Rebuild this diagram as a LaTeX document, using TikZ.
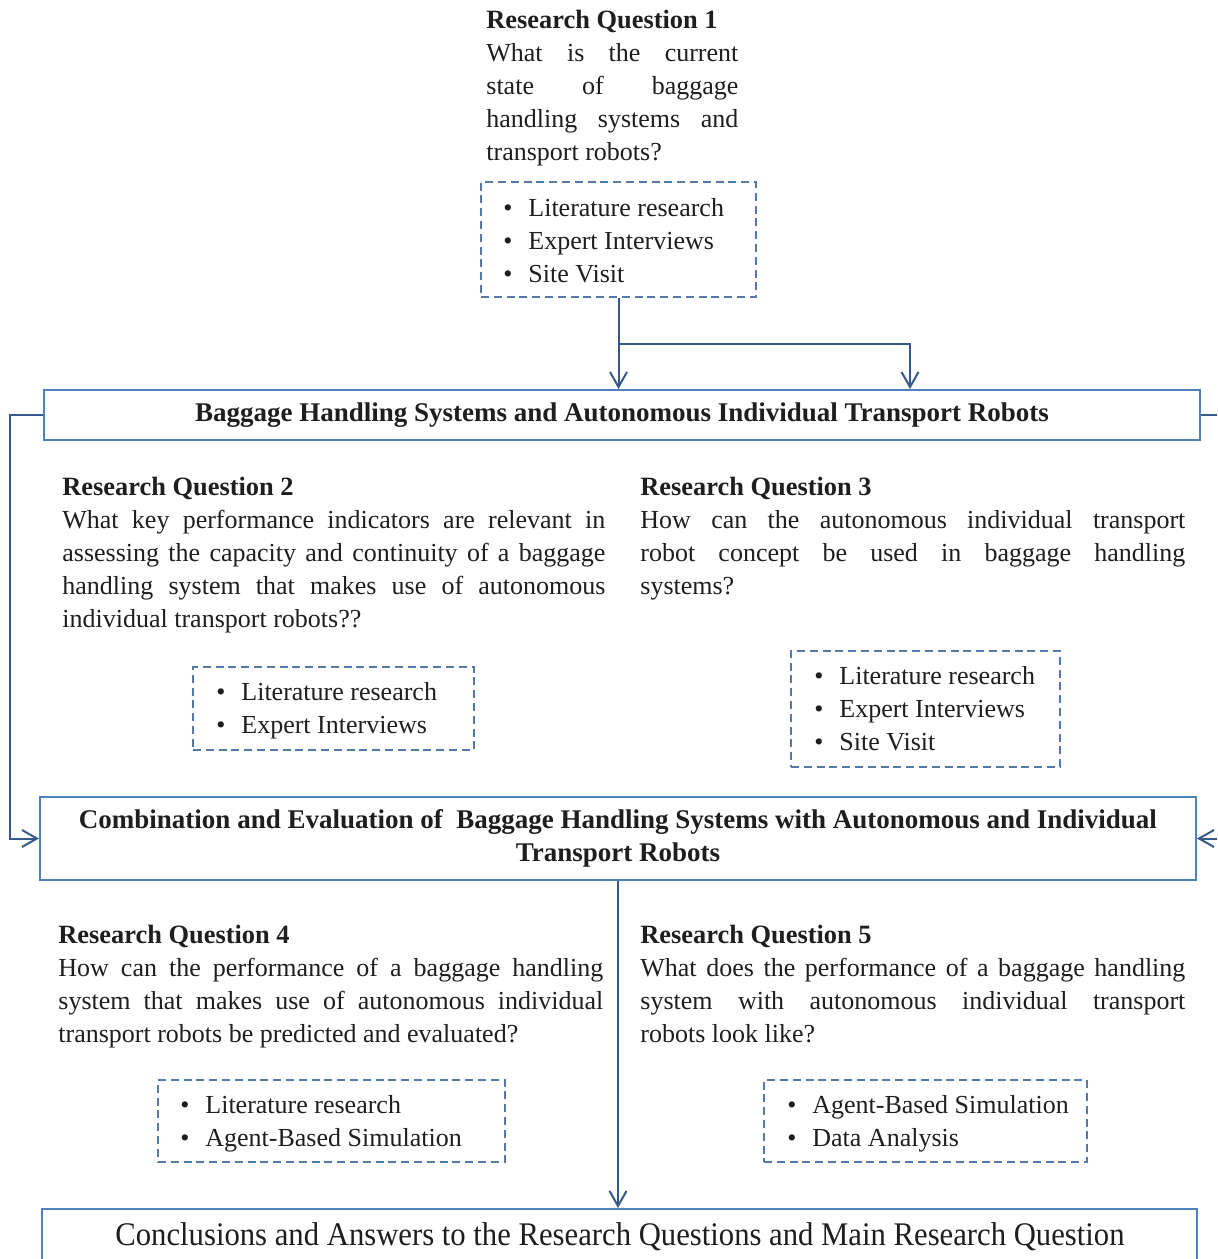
\documentclass[tikz,border=0pt]{standalone}
\usepackage{fontspec}
\setmainfont{Liberation Serif}
\usetikzlibrary{arrows.meta}
\definecolor{boxblue}{RGB}{79,129,189}
\definecolor{lineblue}{RGB}{54,89,138}
\definecolor{dashblue}{RGB}{84,122,168}
\definecolor{ink}{RGB}{30,30,30}
% stacked lines: justified ones fill the given width, natural ones do not
\newlength\colw
\newcommand\jline[1]{\hbox to\colw{#1}}
\newcommand\nline[1]{\hbox{#1}}
\newcommand\stack[2]{\setlength\colw{#1}\vtop{#2}}
\newcommand\rqhead[1]{\nline{\fontsize{13.2}{16.5}\selectfont\bfseries #1}}
\newcommand\bul[1]{\nline{\makebox[12.5pt][l]{\textbullet}#1}}
\begin{document}
\begin{tikzpicture}[x=0.5pt,y=-0.5pt,
  mainbox/.style={draw=boxblue,line width=1pt,inner sep=0pt,fill=white},
  dashbox/.style={draw=dashblue,line width=0.8pt,dash pattern=on 4pt off 2.4pt,inner sep=0pt},
  conn/.style={draw=lineblue,line width=1pt,-{Straight Barb[length=7.5pt,width=8.5pt]}},
  rqtext/.style={anchor=base west,inner sep=0pt,text=ink,font=\fontsize{13}{16.5}\selectfont},
  listtext/.style={anchor=base west,inner sep=0pt,text=ink,font=\fontsize{13}{16.5}\selectfont},
  boxtitle/.style={text=ink,font=\fontsize{13.5}{16.5}\selectfont\bfseries,align=center}]
\useasboundingbox (0,0) rectangle (1217,1259);
\clip (0,0) rectangle (1217,1259);

% ---- research question 1 ----
\node[rqtext] (rq1) at (486,28) {\stack{126pt}{%
  \rqhead{Research Question 1}%
  \jline{What is the current}%
  \jline{state of baggage}%
  \jline{handling systems and}%
  \nline{transport robots?}}};
\node[dashbox,minimum width=137.5pt,minimum height=57.5pt] (m1) at (618.5,239.5) {};
\node[listtext] (l1) at (503,216) {\stack{120pt}{%
  \bul{Literature research}\bul{Expert Interviews}\bul{Site Visit}}};

% ---- first overview box ----
\node[mainbox,minimum width=578pt,minimum height=25pt] (boxA) at (622,415) {};
\node[boxtitle] (tA) at (622,415) {Baggage Handling Systems and Autonomous Individual Transport Robots};

% ---- research questions 2 and 3 ----
\node[rqtext] (rq2) at (62,495) {\stack{271.5pt}{%
  \rqhead{Research Question 2}%
  \jline{What key performance indicators are relevant in}%
  \jline{assessing the capacity and continuity of a baggage}%
  \jline{handling system that makes use of autonomous}%
  \nline{individual transport robots??}}};
\node[rqtext] (rq3) at (640,495) {\stack{272.5pt}{%
  \rqhead{Research Question 3}%
  \jline{How can the autonomous individual transport}%
  \jline{robot concept be used in baggage handling}%
  \nline{systems?}}};
\node[dashbox,minimum width=140.5pt,minimum height=41.5pt] (m2) at (333.5,708.5) {};
\node[listtext] (l2) at (216,700) {\stack{120pt}{%
  \bul{Literature research}\bul{Expert Interviews}}};
\node[dashbox,minimum width=134.5pt,minimum height=58pt] (m3) at (925.5,709) {};
\node[listtext] (l3) at (814,684) {\stack{120pt}{%
  \bul{Literature research}\bul{Expert Interviews}\bul{Site Visit}}};

% ---- second overview box ----
\node[mainbox,minimum width=578pt,minimum height=41.5pt] (boxB) at (618,838.5) {};
\node[boxtitle] (tB) at (618,838.5) {Combination and Evaluation of\ \ Baggage Handling Systems with Autonomous and Individual\\Transport Robots};

% ---- research questions 4 and 5 ----
\node[rqtext] (rq4) at (58,943) {\stack{272.5pt}{%
  \rqhead{Research Question 4}%
  \jline{How can the performance of a baggage handling}%
  \jline{system that makes use of autonomous individual}%
  \nline{transport robots be predicted and evaluated?}}};
\node[rqtext] (rq5) at (640,943) {\stack{272.5pt}{%
  \rqhead{Research Question 5}%
  \jline{What does the performance of a baggage handling}%
  \jline{system with autonomous individual transport}%
  \nline{robots look like?}}};
\node[dashbox,minimum width=173.5pt,minimum height=41pt] (m4) at (331.5,1121) {};
\node[listtext] (l4) at (180,1113) {\stack{150pt}{%
  \bul{Literature research}\bul{Agent-Based Simulation}}};
\node[dashbox,minimum width=161.5pt,minimum height=41pt] (m5) at (925.5,1121) {};
\node[listtext] (l5) at (787,1113) {\stack{150pt}{%
  \bul{Agent-Based Simulation}\bul{Data Analysis}}};

% ---- final box ----
\node[mainbox,minimum width=577.5pt,minimum height=36pt] (boxC) at (619.5,1245) {};
\node[text=ink,inner sep=0pt,font=\fontsize{16.5}{18}\selectfont] (tC) at (620,1237)
  {\scalebox{0.93}[1]{Conclusions and Answers to the Research Questions and Main Research Question}};

% ---- connectors ----
\coordinate (j1) at (618.5,344);
\draw[conn] (m1.south) -- (m1.south |- boxA.north);
\draw[conn] (j1) -| ([xshift=144pt]boxA.north);
\draw[conn] (boxA.west) -- ++(-33,0) |- (boxB.west);
\draw[conn] (boxA.east) -- ++(40,0) |- (boxB.east);
\draw[conn] (boxB.south) -- (boxB.south |- boxC.north);
\end{tikzpicture}
\end{document}
